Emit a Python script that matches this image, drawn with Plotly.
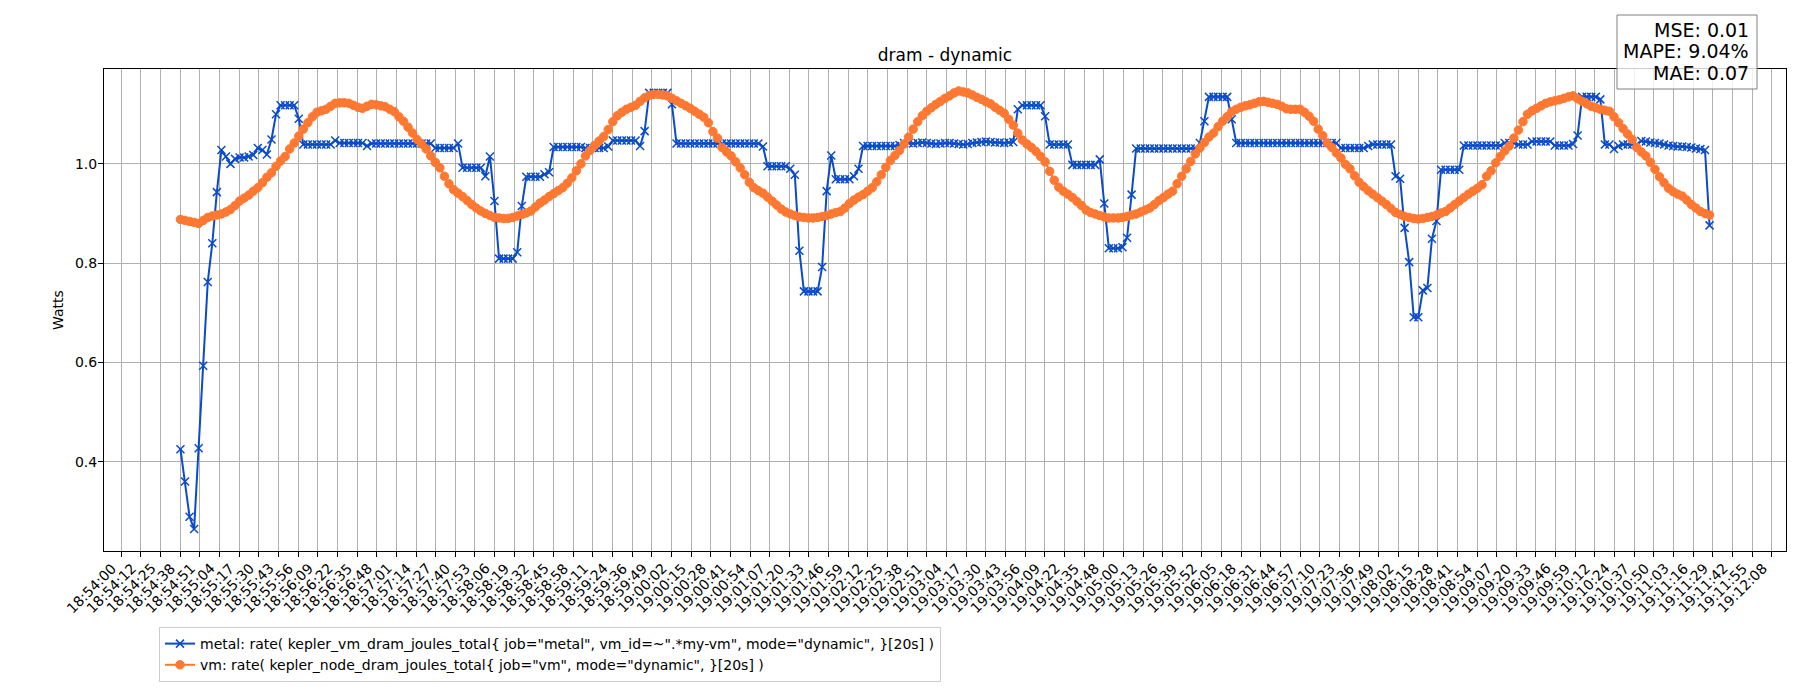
import numpy as np
import pandas as pd
import plotly.graph_objects as go

# ---------------- data ----------------
day = "2024-01-01"
start_time = "18:54:39"
step_seconds = 3

metal_name = 'metal: rate( kepler_vm_dram_joules_total{ job="metal", vm_id=~".*my-vm", mode="dynamic", }[20s] )'
vm_name = 'vm: rate( kepler_node_dram_joules_total{ job="vm", mode="dynamic", }[20s] )'

metal = [
    0.425, 0.360, 0.289, 0.264, 0.427, 0.593, 0.762, 0.840, 0.943, 1.028,
    1.015, 1.000, 1.010, 1.013, 1.013, 1.015, 1.018, 1.032, 1.028, 1.019,
    1.049, 1.100, 1.118, 1.118, 1.118, 1.118, 1.091, 1.039, 1.039, 1.039,
    1.039, 1.039, 1.039, 1.039, 1.047, 1.042, 1.042, 1.042, 1.042, 1.042,
    1.042, 1.036, 1.041, 1.041, 1.041, 1.041, 1.041, 1.041, 1.041, 1.041,
    1.041, 1.041, 1.041, 1.041, 1.041, 1.041, 1.032, 1.032, 1.032, 1.032,
    1.032, 1.041, 0.992, 0.992, 0.992, 0.992, 0.992, 0.975, 1.015, 0.925,
    0.809, 0.809, 0.809, 0.809, 0.822, 0.915, 0.974, 0.974, 0.974, 0.974,
    0.979, 0.983, 1.034, 1.034, 1.034, 1.034, 1.034, 1.034, 1.034, 1.032,
    1.032, 1.032, 1.032, 1.032, 1.035, 1.047, 1.047, 1.047, 1.047, 1.047,
    1.047, 1.036, 1.066, 1.143, 1.143, 1.143, 1.143, 1.143, 1.120, 1.041,
    1.041, 1.041, 1.041, 1.041, 1.041, 1.041, 1.041, 1.041, 1.041, 1.041,
    1.041, 1.041, 1.041, 1.041, 1.041, 1.041, 1.041, 1.041, 1.035, 0.995,
    0.995, 0.995, 0.995, 0.995, 0.990, 0.978, 0.825, 0.743, 0.743, 0.743,
    0.743, 0.792, 0.945, 1.017, 0.969, 0.969, 0.969, 0.969, 0.975, 0.990,
    1.036, 1.036, 1.036, 1.036, 1.036, 1.036, 1.036, 1.036, 1.038, 1.042,
    1.042, 1.041, 1.042, 1.043, 1.042, 1.041, 1.040, 1.041, 1.042, 1.042,
    1.041, 1.040, 1.039, 1.040, 1.042, 1.043, 1.044, 1.045, 1.044, 1.043,
    1.043, 1.042, 1.043, 1.044, 1.110, 1.118, 1.118, 1.118, 1.118, 1.118,
    1.096, 1.039, 1.039, 1.039, 1.039, 1.039, 0.998, 0.998, 0.998, 0.998,
    0.998, 0.998, 1.009, 0.920, 0.830, 0.830, 0.830, 0.832, 0.851, 0.938,
    1.031, 1.031, 1.031, 1.031, 1.031, 1.031, 1.031, 1.031, 1.031, 1.031,
    1.031, 1.031, 1.031, 1.031, 1.042, 1.086, 1.135, 1.135, 1.135, 1.135,
    1.135, 1.090, 1.042, 1.042, 1.042, 1.042, 1.042, 1.042, 1.042, 1.042,
    1.042, 1.042, 1.042, 1.042, 1.042, 1.042, 1.042, 1.042, 1.042, 1.042,
    1.042, 1.042, 1.042, 1.042, 1.042, 1.032, 1.032, 1.032, 1.032, 1.032,
    1.032, 1.036, 1.039, 1.039, 1.039, 1.039, 1.039, 0.975, 0.970, 0.871,
    0.802, 0.691, 0.691, 0.745, 0.750, 0.849, 0.885, 0.988, 0.988, 0.988,
    0.988, 0.988, 1.037, 1.037, 1.037, 1.037, 1.037, 1.037, 1.037, 1.037,
    1.037, 1.042, 1.042, 1.042, 1.039, 1.039, 1.039, 1.045, 1.045, 1.045,
    1.045, 1.045, 1.037, 1.037, 1.037, 1.037, 1.040, 1.057, 1.135, 1.135,
    1.135, 1.135, 1.130, 1.039, 1.039, 1.030, 1.036, 1.039, 1.039, 1.039,
    1.039, 1.046, 1.045, 1.043, 1.042, 1.041, 1.039, 1.037, 1.036, 1.035,
    1.035, 1.034, 1.033, 1.031, 1.030, 1.028, 0.876,
]

vm = [
    0.888, 0.886, 0.884, 0.882, 0.880, 0.886, 0.892, 0.895, 0.897, 0.899,
    0.903, 0.908, 0.916, 0.925, 0.931, 0.937, 0.945, 0.952, 0.962, 0.973,
    0.982, 0.995, 1.006, 1.015, 1.030, 1.042, 1.056, 1.070, 1.083, 1.095,
    1.104, 1.107, 1.110, 1.116, 1.122, 1.123, 1.123, 1.122, 1.118, 1.114,
    1.112, 1.116, 1.120, 1.119, 1.117, 1.115, 1.110, 1.105, 1.095, 1.086,
    1.074, 1.062, 1.049, 1.040, 1.030, 1.016, 1.003, 0.992, 0.975, 0.960,
    0.948, 0.941, 0.934, 0.926, 0.918, 0.911, 0.905, 0.900, 0.896, 0.892,
    0.891, 0.890, 0.890, 0.892, 0.895, 0.898, 0.901, 0.905, 0.913, 0.921,
    0.927, 0.934, 0.940, 0.946, 0.952, 0.961, 0.972, 0.986, 1.000, 1.016,
    1.027, 1.037, 1.046, 1.055, 1.069, 1.085, 1.097, 1.104, 1.110, 1.114,
    1.118, 1.126, 1.133, 1.138, 1.140, 1.140, 1.139, 1.137, 1.132, 1.127,
    1.122, 1.117, 1.112, 1.106, 1.100, 1.094, 1.083, 1.065, 1.052, 1.033,
    1.024, 1.016, 1.004, 0.992, 0.978, 0.963, 0.952, 0.946, 0.941, 0.933,
    0.925, 0.917, 0.909, 0.903, 0.899, 0.896, 0.893, 0.892, 0.891, 0.891,
    0.892, 0.894, 0.896, 0.899, 0.902, 0.904, 0.911, 0.920, 0.927, 0.933,
    0.938, 0.945, 0.952, 0.964, 0.978, 0.993, 1.007, 1.017, 1.027, 1.040,
    1.054, 1.070, 1.085, 1.097, 1.106, 1.113, 1.120, 1.126, 1.132, 1.137,
    1.143, 1.147, 1.145, 1.143, 1.139, 1.134, 1.130, 1.125, 1.121, 1.114,
    1.108, 1.102, 1.090, 1.078, 1.062, 1.048, 1.040, 1.033, 1.025, 1.015,
    1.004, 0.985, 0.967, 0.953, 0.945, 0.939, 0.932, 0.924, 0.916, 0.907,
    0.902, 0.899, 0.896, 0.893, 0.891, 0.891, 0.891, 0.892, 0.894, 0.897,
    0.899, 0.903, 0.907, 0.911, 0.918, 0.926, 0.932, 0.939, 0.945, 0.960,
    0.975, 0.990, 1.005, 1.020, 1.032, 1.043, 1.054, 1.062, 1.075, 1.086,
    1.095, 1.105, 1.110, 1.114, 1.117, 1.119, 1.122, 1.125, 1.126, 1.124,
    1.122, 1.120, 1.116, 1.111, 1.110, 1.110, 1.110, 1.104, 1.096, 1.086,
    1.070, 1.057, 1.042, 1.033, 1.022, 1.012, 0.999, 0.990, 0.976, 0.963,
    0.954, 0.946, 0.939, 0.932, 0.925, 0.918, 0.910, 0.902, 0.898, 0.894,
    0.892, 0.890, 0.889, 0.890, 0.892, 0.894, 0.897, 0.901, 0.904, 0.911,
    0.918, 0.925, 0.932, 0.939, 0.945, 0.951, 0.958, 0.975, 0.986, 1.002,
    1.015, 1.026, 1.036, 1.052, 1.068, 1.085, 1.100, 1.107, 1.112, 1.117,
    1.122, 1.125, 1.127, 1.129, 1.132, 1.135, 1.137, 1.131, 1.126, 1.121,
    1.116, 1.113, 1.110, 1.108, 1.106, 1.095, 1.083, 1.071, 1.060, 1.049,
    1.033, 1.024, 1.016, 1.003, 0.989, 0.974, 0.962, 0.951, 0.944, 0.939,
    0.935, 0.927, 0.918, 0.911, 0.904, 0.900, 0.897,
]

tick_labels = [
    "18:54:00", "18:54:12", "18:54:25", "18:54:38", "18:54:51", "18:55:04", "18:55:17",
    "18:55:30", "18:55:43", "18:55:56", "18:56:09", "18:56:22", "18:56:35", "18:56:48",
    "18:57:01", "18:57:14", "18:57:27", "18:57:40", "18:57:53", "18:58:06", "18:58:19",
    "18:58:32", "18:58:45", "18:58:58", "18:59:11", "18:59:24", "18:59:36", "18:59:49",
    "19:00:02", "19:00:15", "19:00:28", "19:00:41", "19:00:54", "19:01:07", "19:01:20",
    "19:01:33", "19:01:46", "19:01:59", "19:02:12", "19:02:25", "19:02:38", "19:02:51",
    "19:03:04", "19:03:17", "19:03:30", "19:03:43", "19:03:56", "19:04:09", "19:04:22",
    "19:04:35", "19:04:48", "19:05:00", "19:05:13", "19:05:26", "19:05:39", "19:05:52",
    "19:06:05", "19:06:18", "19:06:31", "19:06:44", "19:06:57", "19:07:10", "19:07:23",
    "19:07:36", "19:07:49", "19:08:02", "19:08:15", "19:08:28", "19:08:41", "19:08:54",
    "19:09:07", "19:09:20", "19:09:33", "19:09:46", "19:09:59", "19:10:12", "19:10:24",
    "19:10:37", "19:10:50", "19:11:03", "19:11:16", "19:11:29", "19:11:42", "19:11:55",
    "19:12:08",
]

y_tick_values = [0.4, 0.6, 0.8, 1.0]
y_tick_labels = ["0.4", "0.6", "0.8", "1.0"]

metric_texts = ["MSE: 0.01", "MAPE: 9.04%", "MAE: 0.07"]

# ---------------- derived ----------------
t0 = pd.Timestamp(f"{day} {start_time}")
metal_t = pd.date_range(t0, periods=len(metal), freq=f"{step_seconds}s")
vm_t = pd.date_range(t0, periods=len(vm), freq=f"{step_seconds}s")

tick_first = pd.Timestamp(f"{day} {tick_labels[0]}")
tick_last = pd.Timestamp(f"{day} {tick_labels[-1]}")
tick_pos = pd.to_datetime(np.linspace(tick_first.value, tick_last.value, len(tick_labels)))

x_min = min(metal_t[0], vm_t[0])
x_max = max(metal_t[-1], vm_t[-1])
x_pad = (x_max - x_min) * 0.05
all_y = np.array(metal + vm)
y_pad = (all_y.max() - all_y.min()) * 0.05
y_range = [all_y.min() - y_pad, all_y.max() + y_pad]

BLUE = "#0a4bc9"
ORANGE = "#ff7832"
FONT = "DejaVu Sans"

W, H = 1800, 700
ML, MR, MT, MB = 104, 14, 69, 149
PW, PH = W - ML - MR, H - MT - MB


def px_x(px):
    return (px - ML) / PW


def px_y(py):
    return (H - MB - py) / PH


fig = go.Figure()
fig.add_trace(go.Scatter(
    x=metal_t, y=metal, name=metal_name, mode="lines+markers",
    line=dict(color=BLUE, width=2),
    marker=dict(symbol="x-thin", size=8, color=BLUE, line=dict(color=BLUE, width=1.5)),
))
fig.add_trace(go.Scatter(
    x=vm_t, y=vm, name=vm_name, mode="lines+markers",
    line=dict(color=ORANGE, width=2),
    marker=dict(symbol="circle", size=8.5, color=ORANGE, line=dict(color=ORANGE, width=1)),
))

axis_common = dict(
    showline=True, mirror=True, linecolor="black", linewidth=1,
    ticks="outside", ticklen=5, tickwidth=1, tickcolor="black",
    showgrid=True, gridcolor="#b0b0b0", gridwidth=1, zeroline=False,
    automargin=False,
)

fig.update_xaxes(
    type="date", range=[x_min - x_pad, x_max + x_pad],
    tickmode="array", tickvals=tick_pos, ticktext=tick_labels, showticklabels=False,
    **axis_common,
)
fig.update_yaxes(
    range=y_range, tickmode="array", tickvals=y_tick_values, ticktext=y_tick_labels,
    tickfont=dict(family=FONT, size=14, color="black"), ticklabelstandoff=-2,
    title=dict(text="Watts", font=dict(family=FONT, size=14, color="black"), standoff=8),
    **axis_common,
)

# rotated x tick labels (right/top of the rotated box at each tick, like matplotlib ha='right')
for pos, lab in zip(tick_pos, tick_labels):
    fig.add_annotation(
        text=lab, x=pos, xref="x", y=px_y(559), yref="paper",
        xanchor="right", yanchor="top", textangle=-45, showarrow=False,
        borderpad=0, font=dict(family=FONT, size=14, color="black"),
    )

fig.add_shape(
    type="rect", xref="paper", yref="paper",
    x0=px_x(1617), x1=px_x(1757), y0=px_y(89), y1=px_y(15),
    line=dict(color="#808080", width=1), fillcolor="rgba(255,255,255,0.8)", layer="above",
)
for k, txt in enumerate(metric_texts):
    fig.add_annotation(
        text=txt, xref="paper", yref="paper", x=px_x(1751), y=px_y(29.5 + 21.7 * k),
        xanchor="right", yanchor="middle", showarrow=False,
        font=dict(family=FONT, size=19, color="black"),
    )

fig.update_layout(
    width=W, height=H, margin=dict(l=ML, r=MR, t=MT, b=MB, autoexpand=False),
    paper_bgcolor="white", plot_bgcolor="white",
    font=dict(family=FONT, size=14, color="black"),
    title=dict(text="dram - dynamic", x=0.5, xref="paper", xanchor="center",
               y=1 - 55 / H, yref="container", yanchor="middle",
               font=dict(family=FONT, size=17, color="black")),
    showlegend=True,
    legend=dict(x=px_x(159), y=px_y(627), xanchor="left", yanchor="top",
                bordercolor="#cccccc", borderwidth=1, bgcolor="rgba(255,255,255,0.8)",
                font=dict(family=FONT, size=14, color="black"), tracegroupgap=0),
)

fig.write_html("out.html")
